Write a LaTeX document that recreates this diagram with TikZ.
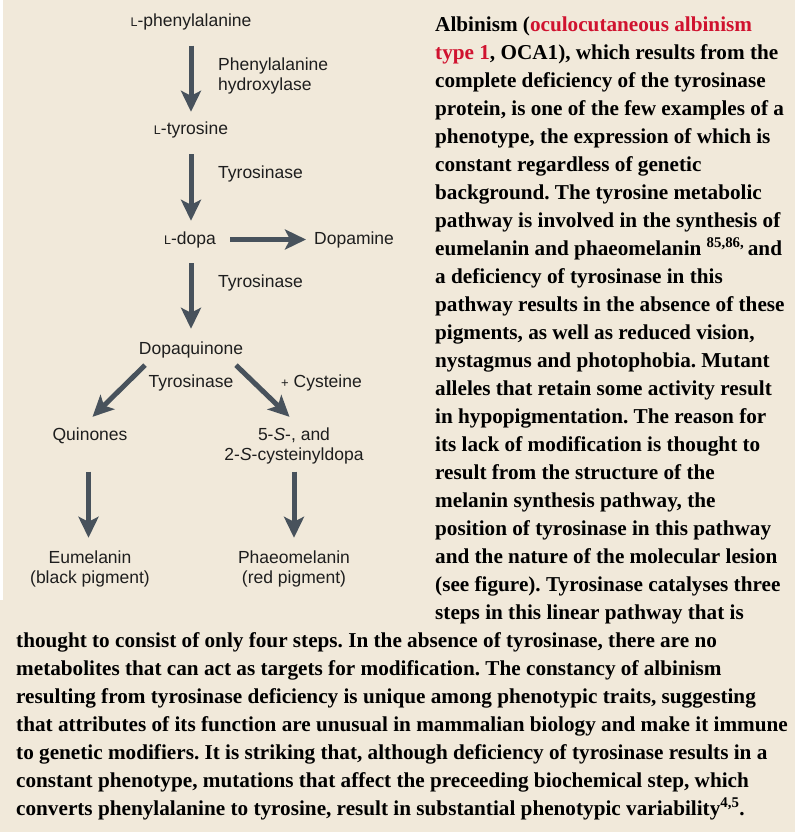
\documentclass[tikz,border=0pt]{standalone}
\usepackage{fontspec}
\setmainfont{Liberation Serif}
\newfontfamily\dsans{Liberation Sans}
\usetikzlibrary{arrows.meta}
\frenchspacing
\definecolor{bgc}{HTML}{F1E9DA}
\definecolor{arrc}{HTML}{48525C}
\definecolor{redc}{HTML}{D0122F}
\definecolor{txtc}{HTML}{1E1E1E}
\newcommand{\scL}{{\fontsize{12.5bp}{12.5bp}\selectfont L}}
\tikzset{
  lab/.style={font=\dsans\fontsize{17.5bp}{20bp}\selectfont, text=txtc, inner sep=0pt, text height=13bp, text depth=4bp},
  pa/.style={draw=arrc, line width=5bp, -{Stealth[length=21bp,width=20bp,inset=5bp]}},
  body/.style={font=\fontsize{21.2bp}{28bp}\selectfont\bfseries, text=black, inner sep=0pt, anchor=base west}
}
\begin{document}
\begin{tikzpicture}[x=1bp,y=-1bp]
\fill[bgc] (0,0) rectangle (795,832);
\fill[white] (0,0) rectangle (3,600);
\useasboundingbox (0,0) rectangle (795,832);
% main chain
\node[lab, anchor=base] (phe) at (191,26) {\scL-phenylalanine};
\node[lab, anchor=base] (tyr) at (191,134) {\scL-tyrosine};
\node[lab, anchor=base] (dopa) at (190,244) {\scL-dopa};
\node[lab, anchor=base west] (dpm) at (314,244) {Dopamine};
\node[lab, anchor=base] (dq) at (191,354) {Dopaquinone};
\node[lab, anchor=base] (quin) at (90,440) {Quinones};
\node[lab, anchor=base] (s5) at (294,440) {5-\textit{S}-, and};
\node[lab, anchor=base] (s2) at (294,460) {2-\textit{S}-cysteinyldopa};
\node[lab, anchor=base] (eum) at (90,563) {Eumelanin};
\node[lab, anchor=base] (eumb) at (90,583) {(black pigment)};
\node[lab, anchor=base] (pha) at (294,563) {Phaeomelanin};
\node[lab, anchor=base] (phab) at (294,583) {(red pigment)};
% enzyme labels
\node[lab, anchor=base west] (e1a) at (218,70) {Phenylalanine};
\node[lab, anchor=base west] (e1b) at (218,90) {hydroxylase};
\node[lab, anchor=base west] (e2) at (218,178) {Tyrosinase};
\node[lab, anchor=base west] (e3) at (218,287) {Tyrosinase};
\node[lab, anchor=base] (e4) at (191,387) {Tyrosinase};
\node[lab, anchor=base west] (e5) at (281,387) {{\fontsize{13bp}{13bp}\selectfont+} Cysteine};
% arrows
\draw[pa, shorten <=15.5bp, shorten >=9bp] (phe.south) -- (tyr.north);
\draw[pa, shorten <=16bp, shorten >=10bp] (tyr.south) -- (dopa.north -| tyr.south);
\draw[pa, shorten <=15bp, shorten >=12bp] (dopa.south -| dq.north) -- (dq.north);
\draw[pa] ([xshift=14bp]dopa.east) -- ([xshift=-8bp]dpm.west);
\draw[pa] ([shift={(-46,7)}]dq.south) -- ([shift={(2.5,-10)}]quin.north);
\draw[pa] ([shift={(45,7)}]dq.south) -- ([shift={(-4.5,-10)}]s5.north);
\draw[pa, shorten <=27.5bp, shorten >=12bp] ([xshift=-1.5bp]quin.south) -- ([xshift=-1.5bp]eum.north);
\draw[pa, shorten <=7.5bp, shorten >=12bp] (s2.south) -- (pha.north);
% body text
\foreach \t [count=\i from 0] in {
 {Albinism (\textcolor{redc}{oculocutaneous albinism}},
 {\textcolor{redc}{type 1}, OCA1), which results from the},
 {complete deficiency of the tyrosinase},
 {protein, is one of the few examples of a},
 {phenotype, the expression of which is},
 {constant regardless of genetic},
 {background. The tyrosine metabolic},
 {pathway is involved in the synthesis of},
 {eumelanin and phaeomelanin \textsuperscript{85,86,}\,and},
 {a deficiency of tyrosinase in this},
 {pathway results in the absence of these},
 {pigments, as well as reduced vision,},
 {nystagmus and photophobia. Mutant},
 {alleles that retain some activity result},
 {in hypopigmentation. The reason for},
 {its lack of modification is thought to},
 {result from the structure of the},
 {melanin synthesis pathway, the},
 {position of tyrosinase in this pathway},
 {and the nature of the molecular lesion},
 {(see figure). Tyrosinase catalyses three},
 {steps in this linear pathway that is}}
 \node[body] (r\i) at (435,31+28*\i) {\t};
\foreach \t [count=\i from 0] in {
 {thought to consist of only four steps. In the absence of tyrosinase, there are no},
 {metabolites that can act as targets for modification. The constancy of albinism},
 {resulting from tyrosinase deficiency is unique among phenotypic traits, suggesting},
 {that attributes of its function are unusual in mammalian biology and make it immune},
 {to genetic modifiers. It is striking that, although deficiency of tyrosinase results in a},
 {constant phenotype, mutations that affect the preceeding biochemical step, which},
 {converts phenylalanine to tyrosine, result in substantial phenotypic variability\textsuperscript{4,5}.}}
 \node[body] (b\i) at (16,647+28*\i) {\t};
\end{tikzpicture}
\end{document}
